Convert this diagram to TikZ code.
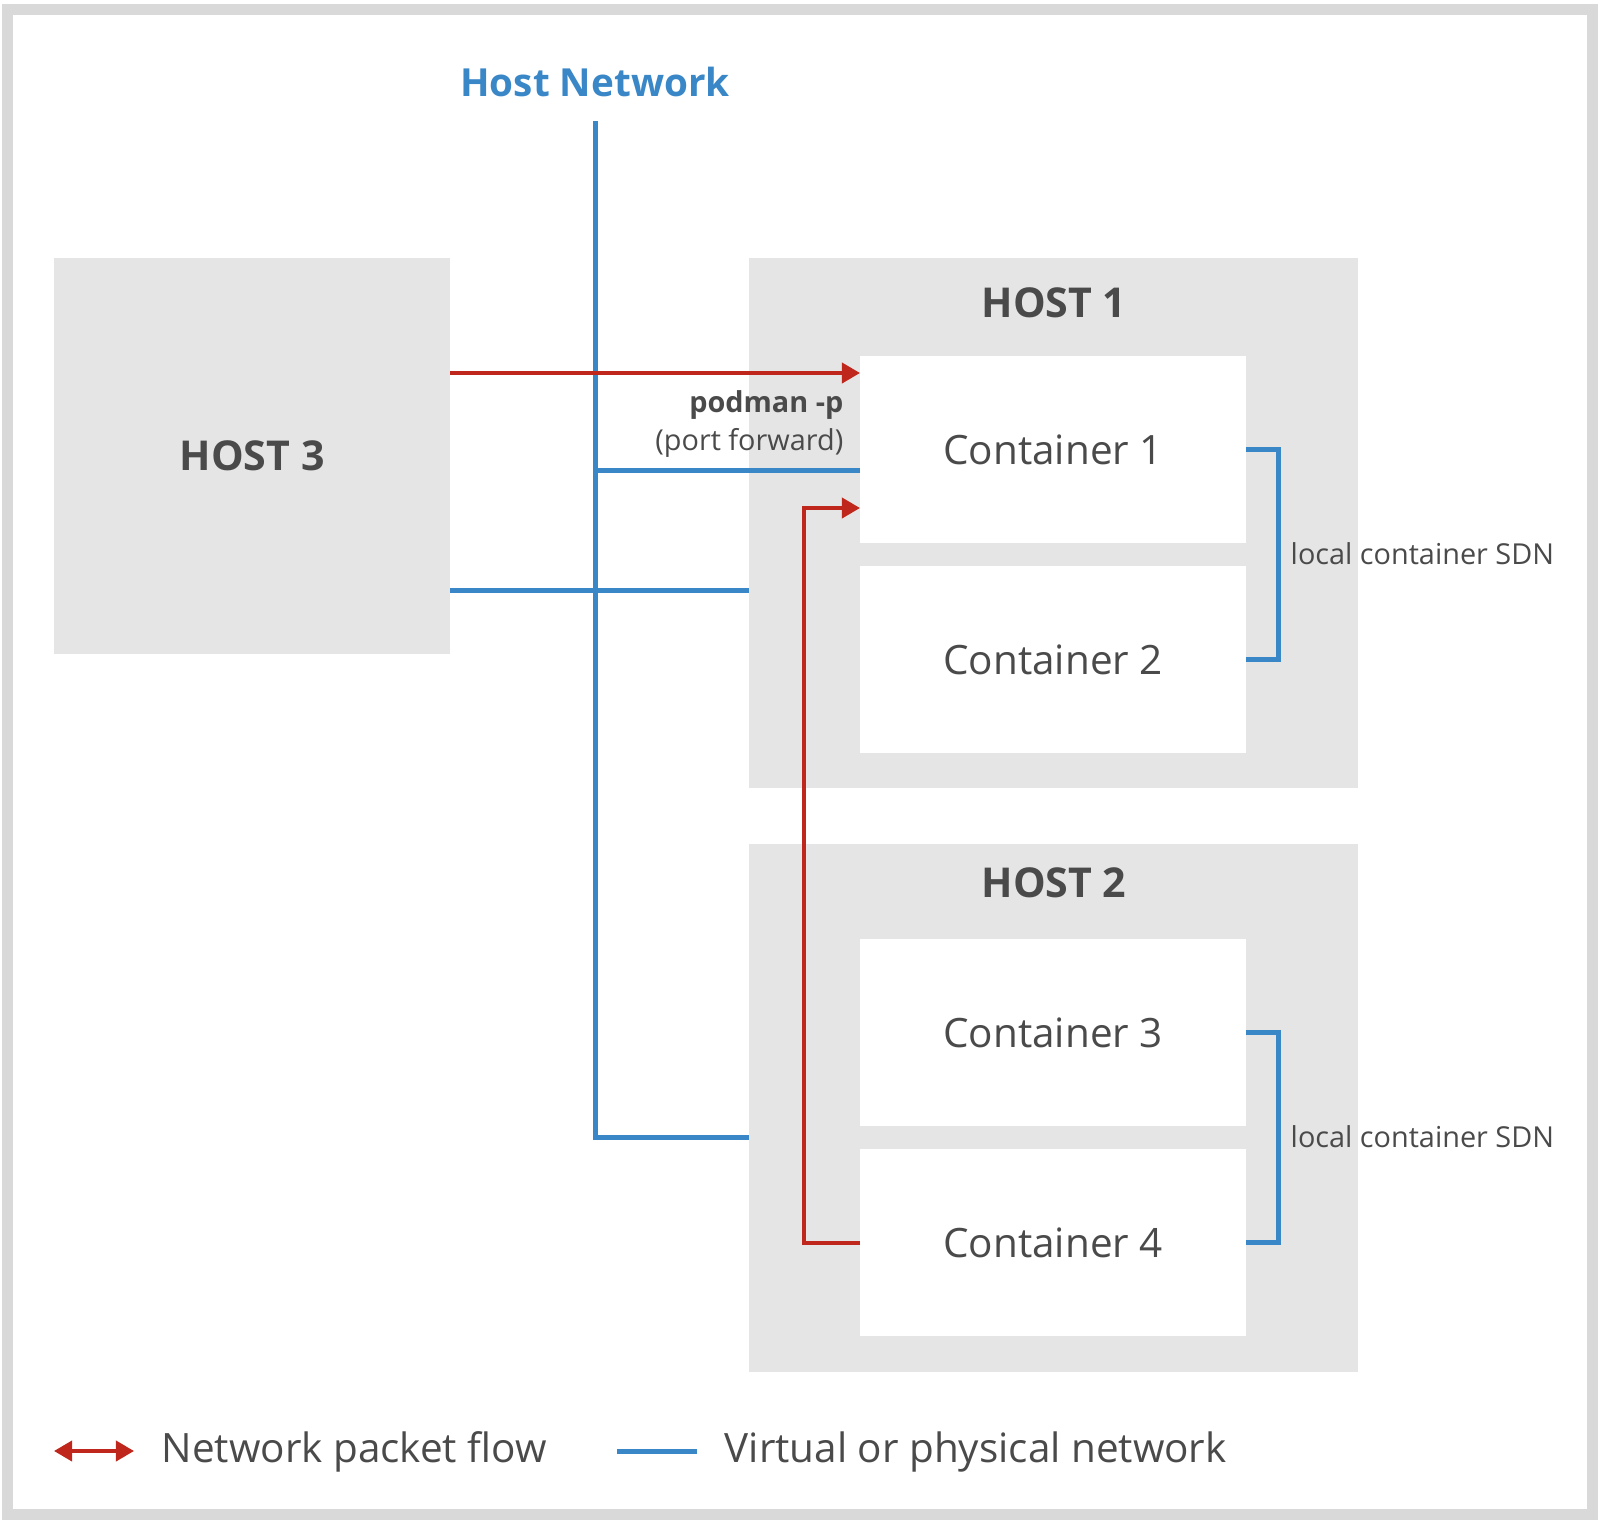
\documentclass[tikz,border=0pt]{standalone}
\usepackage{fontspec}
\setmainfont{Open Sans}
\usetikzlibrary{arrows.meta,positioning}

\definecolor{netblue}{HTML}{3A87C8}
\definecolor{flowred}{HTML}{C0271C}
\definecolor{hostgrey}{HTML}{E5E5E5}
\definecolor{framegrey}{HTML}{D9D9D9}
\definecolor{txtgrey}{HTML}{4A4A4A}

\tikzset{
  hostbox/.style={fill=hostgrey, anchor=north west, inner sep=0pt, outer sep=0pt,
    text=txtgrey, font=\bfseries\fontsize{11.7}{14}\selectfont},
  ctrbox/.style={fill=white, anchor=north west, inner sep=0pt, outer sep=0pt,
    minimum width=3.86cm, minimum height=1.87cm, text=txtgrey,
    font=\fontsize{11.5}{14}\selectfont},
  hostlbl/.style={text=txtgrey, inner sep=0pt, font=\bfseries\fontsize{11.7}{14}\selectfont},
  smalllbl/.style={text=txtgrey, inner sep=0pt, font=\fontsize{8.2}{10}\selectfont},
  legtxt/.style={text=txtgrey, inner sep=0pt, font=\fontsize{11.5}{14}\selectfont},
  netline/.style={netblue, line width=0.05cm},
  flow/.style={flowred, line width=0.037cm, -{Triangle[length=0.18cm,width=0.2cm]}},
}

\begin{document}
\begin{tikzpicture}[x=0.01cm, y=-0.01cm]
  \useasboundingbox (0,0) rectangle (1602,1524);
  \draw[framegrey, line width=0.11cm] (7.5,9.5) rectangle (1592.5,1514);

  %hosts
  \node[hostbox, minimum width=3.96cm, minimum height=3.96cm] (host3) at (54,258) {HOST 3};
  \node[hostbox, minimum width=6.09cm, minimum height=5.30cm] (host1) at (749,258) {};
  \node[hostbox, minimum width=6.09cm, minimum height=5.28cm] (host2) at (749,844) {};
  \node[hostlbl] (host1lbl) at (1054,303) {HOST 1};
  \node[hostlbl] (host2lbl) at (1054,883) {HOST 2};

  %containers
  \node[ctrbox] (c1) at (860,356) {Container 1};
  \node[ctrbox, below=0.23cm of c1] (c2) {Container 2};
  \node[ctrbox] (c3) at (860,939) {Container 3};
  \node[ctrbox, below=0.23cm of c3] (c4) {Container 4};

  %labels
  \node[hostlbl, text=netblue, font=\bfseries\fontsize{11}{13}\selectfont] (hostnet) at (595,82) {Host Network};
  \node[smalllbl, font=\bfseries\fontsize{8.2}{10}\selectfont, anchor=base east] (podman) at (844,412) {podman -p};
  \node[smalllbl, anchor=base east] (portfwd) at (844,450) {(port forward)};
  \node[smalllbl, anchor=west] (sdn1) at (1290,554) {local container SDN};
  \node[smalllbl, anchor=west] (sdn2) at (1290,1137) {local container SDN};

  \coordinate (nettop) at (595,121);
  \coordinate (netbot) at (595,1137);
  \coordinate (fwd) at (0,373);
  \coordinate (c1net) at (0,470);
  \coordinate (h3net) at (0,590);
  \coordinate (back) at (0,508);
  \coordinate (backx) at (804,0);

  %networks
  \draw[netline] (nettop) -- (netbot) -- (netbot -| host2.west);
  \draw[netline] (nettop |- c1net) -- (c1.west |- c1net);
  \draw[netline] (host3.east |- h3net) -- (host1.west |- h3net);
  \draw[netline] (c1.east) -- ++(32,0) |- (c2.east);
  \draw[netline] (c3.east) -- ++(32,0) |- (c4.east);

  %packet flow
  \draw[flow] (host3.east |- fwd) -- (c1.west |- fwd);
  \draw[flow] (c4.west) -| (backx |- back) -- (c1.west |- back);

  %legend
  \coordinate (lgflowa) at (54,1451);
  \coordinate (lgflowb) at (134,1451);
  \coordinate (lgneta) at (617,1451);
  \coordinate (lgnetb) at (697,1451);
  \draw[flow, {Triangle[length=0.18cm,width=0.2cm]}-{Triangle[length=0.18cm,width=0.2cm]}] (lgflowa) -- (lgflowb);
  \node[legtxt, anchor=base west] (flowtxt) at (161,1462) {Network packet flow};
  \draw[netline] (lgneta) -- (lgnetb);
  \node[legtxt, anchor=base west] (nettxt) at (724,1462) {Virtual or physical network};
\end{tikzpicture}
\end{document}
